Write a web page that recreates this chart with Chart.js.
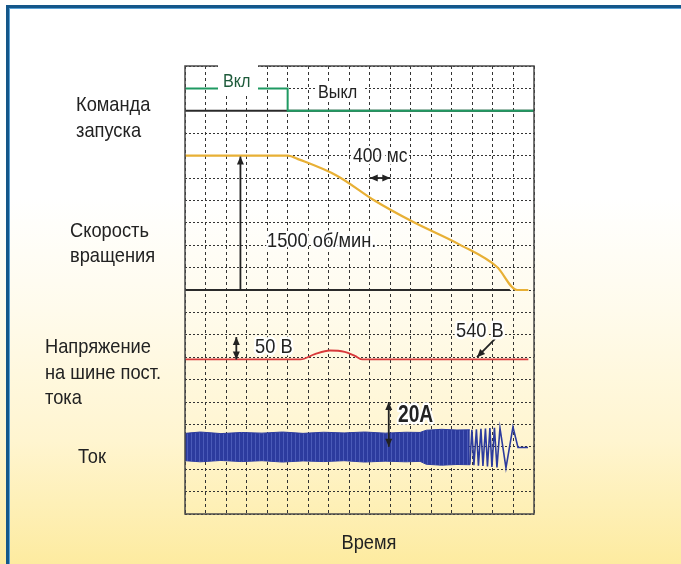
<!DOCTYPE html>
<html lang="ru">

<head>
    <meta charset="UTF-8">
    <title>Останов привода</title>

    <script src="https://cdn.jsdelivr.net/npm/chart.js"></script> <!-- Chart.js -->

    <style>
        html, body { margin: 0; padding: 0; }
        body {
            width: 681px;
            height: 564px;
            overflow: hidden;
            position: relative;
            background: linear-gradient(#ffffff 0%, #ffffff 35%, #fffbec 55%, #fff5d0 78%, #fdeba0 100%);
        }
        .frame { /* blue frame, only the top and left edges are in view */
            position: absolute;
            left: 6px;
            top: 5px;
            width: 720px;
            height: 620px;
            border-top: 3px solid #14578a;
            border-left: 3px solid #14578a;
            box-shadow: inset 1px 1px 0 #5aa2d6;
        }
        canvas { position: absolute; left: 0; top: 0; }
    </style>
</head>

<body>
    <div class="frame"></div>
    <canvas id="scope" width="681" height="564"></canvas>

<script>

    // Time axis: 17 divisions of 400 ms
    var timeMax = 6800;
    var timeStep = 400;

    // Start command (1 = Вкл, 0 = Выкл)
    var timeCmd = [0, 2000, 2000, 6800];
    var cmdState = [1, 1, 0, 0];

    // Rotation speed, об/мин
    var timeSpeed = [0, 2000, 2230, 2960, 3700, 4440, 5360, 6080, 6470, 6690];
    var speedRpm = [1500, 1500, 1455, 1276, 996, 761, 504, 257, 0, 0];

    // DC bus voltage, В
    var timeVolt = [0, 2250, 2530, 2820, 3110, 3310, 3460, 6690];
    var voltDc = [540, 540, 552, 560, 557, 548, 540, 540];

    // Motor current, А: envelope of the dense part
    var timeEnv = [0, 300, 700, 1100, 1500, 1900, 2300, 2700, 3100, 3500, 3900, 4300, 4580, 4700, 5000, 5300, 5550];
    var currentHi = [6.0, 6.6, 5.9, 6.4, 6.1, 6.6, 6.0, 6.5, 6.2, 6.6, 6.1, 6.5, 6.4, 7.4, 7.8, 7.5, 7.6];
    var currentLo = [-6.2, -6.7, -6.1, -6.6, -6.2, -6.8, -6.3, -6.6, -6.2, -6.8, -6.4, -6.7, -6.5, -7.8, -8.2, -7.9, -8.0];

    // Motor current, А: last swings before it stops
    var timeTail = [5550, 5590, 5629, 5678, 5717, 5766, 5805, 5854, 5893, 5941, 5980, 6029, 6078, 6137, 6254, 6390, 6488, 6683];
    var currentTail = [-8.0, 7.6, -8.2, 7.8, -8.4, 8.0, -8.6, 8.2, -8.8, 8.4, -9.0, 8.5, -9.2, 8.4, -9.4, 8.9, -0.3, -0.3];

    // Channel position (division) and units per division, like on the scope
    var chCmd = { pos: 18, perDiv: 1 };
    var chSpeed = { pos: 10, perDiv: 250 };
    var chVolt = { pos: 6.9, perDiv: 50, zero: 540 };
    var chCur = { pos: 3, perDiv: 10 };

    function points(times, values, ch) {
        var zero = ch.zero || 0;
        return times.map(function (t, i) {
            return { x: t, y: ch.pos + (values[i] - zero) / ch.perDiv };
        });
    }

    function flat(t0, t1, ch) {
        return [{ x: t0, y: ch.pos }, { x: t1, y: ch.pos }];
    }

    var TEXT = '#222222';
    var FONT = '"Liberation Sans", Arial, sans-serif';

    function label(ctx, text, x, y, size, opts) {
        opts = opts || {};
        ctx.save();
        ctx.font = (opts.bold ? 'bold ' : '') + size + 'px ' + FONT;
        ctx.textBaseline = 'alphabetic';
        ctx.textAlign = opts.align || 'left';
        ctx.translate(x, y);
        ctx.scale(opts.sx || 0.87, 1);
        if (opts.halo) {
            ctx.strokeStyle = 'rgba(255,255,255,0.95)';
            ctx.lineWidth = 5;
            ctx.lineJoin = 'round';
            ctx.strokeText(text, 0, 0);
        }
        ctx.fillStyle = opts.color || TEXT;
        ctx.fillText(text, 0, 0);
        ctx.restore();
    }

    function arrow(ctx, x0, y0, x1, y1, both) {
        var head = function (xa, ya, xb, yb) { // head at (xb, yb)
            var ang = Math.atan2(yb - ya, xb - xa);
            ctx.beginPath();
            ctx.moveTo(xb, yb);
            ctx.lineTo(xb - 8 * Math.cos(ang) + 3.5 * Math.sin(ang), yb - 8 * Math.sin(ang) - 3.5 * Math.cos(ang));
            ctx.lineTo(xb - 8 * Math.cos(ang) - 3.5 * Math.sin(ang), yb - 8 * Math.sin(ang) + 3.5 * Math.cos(ang));
            ctx.closePath();
            ctx.fill();
        };
        ctx.beginPath();
        ctx.moveTo(x0, y0);
        ctx.lineTo(x1, y1);
        ctx.stroke();
        head(x0, y0, x1, y1);
        if (both) head(x1, y1, x0, y0);
    }

    // Frame, arrows and texts on top of the traces
    var scopeDecor = {
        id: 'scopeDecor',
        afterDatasetsDraw: function (chart) {
            var ctx = chart.ctx, a = chart.chartArea;
            var xs = chart.scales.x, ys = chart.scales.y;
            var px = function (t) { return xs.getPixelForValue(t); };
            var py = function (d) { return ys.getPixelForValue(d); };

            ctx.save();
            ctx.strokeStyle = '#4a4a4a';
            ctx.lineWidth = 1.5;
            ctx.strokeRect(a.left, a.top, a.right - a.left, a.bottom - a.top);

            // white boxes behind the command labels
            ctx.fillStyle = '#ffffff';
            ctx.fillRect(218, 58, 40, 35);
            ctx.fillRect(315, 82, 48, 19);

            ctx.strokeStyle = TEXT;
            ctx.fillStyle = TEXT;
            ctx.lineWidth = 1.8;
            // 1500 об/мин
            arrow(ctx, px(1080), py(chSpeed.pos), px(1080), py(chSpeed.pos + 1500 / chSpeed.perDiv) + 1, false);
            // 400 мс
            arrow(ctx, px(3600), py(15), px(4000), py(15), true);
            // 50 В
            arrow(ctx, px(1000), py(chVolt.pos), px(1000), py(chVolt.pos + 1), true);
            // 20 A
            arrow(ctx, px(3970), py(chCur.pos), px(3970), py(chCur.pos + 2), true);
            // 540 В pointer
            arrow(ctx, px(6040), py(chVolt.pos + 46 / chVolt.perDiv), px(5690), py(chVolt.pos + 5 / chVolt.perDiv), false);
            ctx.restore();

            label(ctx, 'Вкл', 223, 87, 18, { color: '#1d5a3a', sx: 0.9 });
            label(ctx, 'Выкл', 318, 98, 18, { sx: 0.9 });
            label(ctx, '400 мс', 353, 162, 20, { halo: true });
            label(ctx, '1500 об/мин.', 267, 247, 21, { halo: true });
            label(ctx, '50 В', 255, 353, 21, { halo: true });
            label(ctx, '540 В', 456, 337, 21, { halo: true });
            label(ctx, '20A', 398, 422, 24, { bold: true, sx: 0.8, halo: true });

            label(ctx, 'Команда', 76, 111, 21);
            label(ctx, 'запуска', 76, 137, 21);
            label(ctx, 'Скорость', 70, 237, 21);
            label(ctx, 'вращения', 70, 262, 21);
            label(ctx, 'Напряжение', 45, 353, 21);
            label(ctx, 'на шине пост.', 45, 379, 21);
            label(ctx, 'тока', 45, 404, 21);
            label(ctx, 'Ток', 78, 463, 21);
            label(ctx, 'Время', 369, 549, 21, { align: 'center' });
        }
    };

    var GREEN = '#1f9a62';
    var YELLOW = '#e8b035';
    var RED = '#d8383a';
    var BLUE = '#2c3b9e';
    var BASE = '#2a2a2a';

    // striped fill for the dense current band
    var tile = document.createElement('canvas');
    tile.width = 4;
    tile.height = 1;
    var tctx = tile.getContext('2d');
    tctx.fillStyle = BLUE;
    tctx.fillRect(0, 0, 3, 1);
    tctx.fillStyle = '#4a5ab8';
    tctx.fillRect(3, 0, 1, 1);
    var bandFill = tctx.createPattern(tile, 'repeat');

    new Chart(document.getElementById('scope'), {
        type: 'line',
        data: {
            datasets: [ // first dataset is drawn on top
                { data: points(timeCmd, cmdState, chCmd), borderColor: GREEN, borderWidth: 2 },
                { data: flat(0, 6800, chCmd), borderColor: BASE, borderWidth: 2 },
                { data: points(timeSpeed, speedRpm, chSpeed), borderColor: YELLOW, borderWidth: 2.2, cubicInterpolationMode: 'monotone' },
                { data: flat(0, 6330, chSpeed), borderColor: BASE, borderWidth: 2 },
                { data: points(timeVolt, voltDc, chVolt), borderColor: RED, borderWidth: 1.8, cubicInterpolationMode: 'monotone' },
                { data: points(timeTail, currentTail, chCur), borderColor: BLUE, borderWidth: 1.6 },
                { data: points(timeEnv, currentHi, chCur), borderColor: BLUE, borderWidth: 1, backgroundColor: bandFill, fill: '+1' },
                { data: points(timeEnv, currentLo, chCur), borderColor: BLUE, borderWidth: 1 }
            ]
        },
        options: {
            responsive: false,
            animation: false,
            devicePixelRatio: 1,
            layout: { padding: { left: 185, right: 147, top: 66, bottom: 50 } },
            plugins: { legend: { display: false }, tooltip: { enabled: false } },
            elements: { point: { radius: 0 }, line: { tension: 0 } },
            scales: {
                x: {
                    type: 'linear', min: 0, max: timeMax,
                    ticks: { stepSize: timeStep, display: false },
                    grid: { color: '#333333', lineWidth: 1, drawTicks: false },
                    border: { display: false, dash: [3, 3] }
                },
                y: {
                    type: 'linear', min: 0, max: 20,
                    ticks: { stepSize: 1, display: false },
                    grid: { color: '#333333', lineWidth: 1, drawTicks: false },
                    border: { display: false, dash: [2, 2] }
                }
            }
        },
        plugins: [scopeDecor]
    });

</script>
</body>

</html>
